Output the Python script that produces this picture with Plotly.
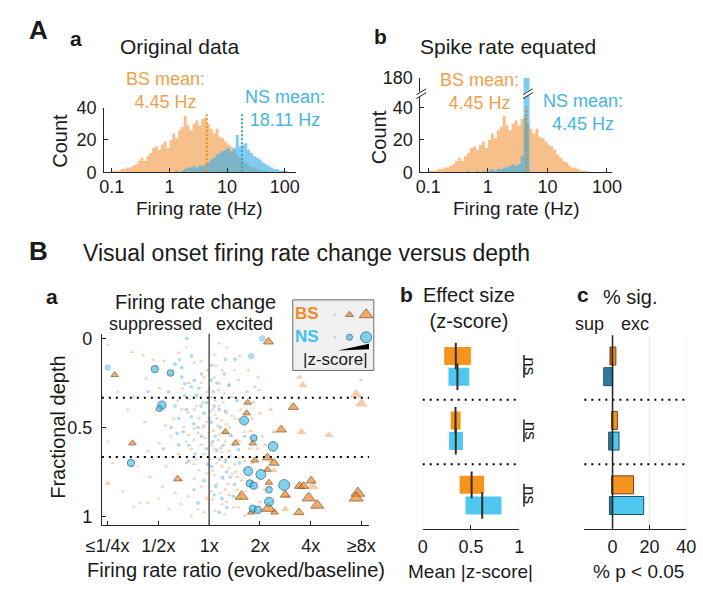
import numpy as np
import plotly.graph_objects as go

W, H = 703, 592
FONT = "Liberation Sans, Arial, sans-serif"

# ---------------- DATA ----------------
# Panel A histograms: log-spaced bins, 20 per decade, first edge at 0.1 Hz
HIST_FIRST_EDGE_HZ = 0.1
HIST_BINS_PER_DECADE = 20
BS_COUNTS = [1, 1, 1, 2, 2, 3, 3, 4, 5, 7,
             9, 7, 10, 12, 15, 16, 14, 17, 19, 15,
             20, 24, 21, 26, 28, 35, 29, 26, 30, 32,
             29, 33, 34, 30, 27, 24, 27, 22, 21, 19,
             17, 16, 14, 11, 9, 7, 6, 4, 3, 3,
             2, 1, 1, 1, 0, 0, 0, 0, 0, 0,
             0, 0, 0, 0]
NS_COUNTS_ORIGINAL = [0, 0, 0, 0, 0, 0, 0, 0, 0, 0,
                      0, 0, 0, 0, 0, 0, 0, 0, 0, 0,
                      0, 0, 1, 0, 1, 2, 3, 3, 4, 3,
                      4, 4, 5, 6, 8, 9, 11, 12, 13, 14,
                      15, 13, 15, 23, 16, 17, 18, 14, 12, 10,
                      9, 8, 6, 5, 4, 3, 2, 2, 1, 1,
                      1, 0, 0, 0]
NS_COUNTS_EQUATED = [0, 0, 0, 0, 0, 0, 0, 0, 0, 0,
                     0, 0, 0, 1, 0, 0, 1, 0, 1, 0,
                     1, 2, 1, 2, 2, 3, 3, 4, 5, 4,
                     5, 10, 180, 180, 0, 0, 0, 0, 0, 0,
                     0, 0, 0, 0, 0, 0, 0, 0, 0, 0,
                     0, 0, 0, 0, 0, 0, 0, 0, 0, 0,
                     0, 0, 0, 0]
BS_MEAN_HZ = 4.45
NS_MEAN_ORIGINAL_HZ = 18.11
NS_MEAN_EQUATED_HZ = 4.45
MEAN_LINE_TOP_A = 36
MEAN_LINE_TOP_B = 40
HIST_X_TICKS_HZ = [0.1, 1, 10, 100]
HIST_X_TICK_LABELS = ["0.1", "1", "10", "100"]
COUNT_TICKS_A = [0, 20, 40]
COUNT_TICKS_B = [0, 20, 40, 180]
# broken axis for panel Ab
BREAK_LO = 48.0
BREAK_HI = 169.5

# Panel Ba: firing-rate ratio (log2) vs fractional depth, |z|
RATIO_TICKS_LOG2 = [-2, -1, 0, 1, 2, 3]
RATIO_TICK_LABELS = ["≤1/4x", "1/2x", "1x", "2x", "4x", "≥8x"]
DEPTH_TICKS = [0, 0.5, 1]
DEPTH_TICK_LABELS = ["0", "0.5", "1"]
DEPTH_BOUNDARIES = [1 / 3, 2 / 3]

BS_FAINT_LOG2 = [-2.00, -1.52, -1.30, -0.60, -0.89, -0.29, -0.16, -1.24, -0.98, -0.10,
                 -0.03, -1.49, -0.54, -0.41, -0.29, -2.03, -1.27, -0.86, -0.41, -0.29,
                 -0.22, -0.10, -0.16, -0.98, -1.21, -2.00, -0.29, -2.00, -1.17, -0.92,
                 -0.54, -0.29, -0.16, -0.41, -0.67, -1.37, -1.21, -1.49, -0.35, -0.10,
                 0.20, 0.10, 0.13, 0.26, 0.77, 0.96, 0.20, 0.58, 0.99, 0.07,
                 0.20, 0.45, 0.58, 0.17, 0.29, 0.55, 0.70, 0.23, 0.39, 0.13,
                 0.51, 0.70, 0.07, 0.45, 0.64, 0.32, 0.07, 0.26, 0.58, 0.70,
                 1.09, 1.50, 1.53, 2.04, 1.28, 1.78, 1.85, 1.82, 2.36, 2.90,
                 3.00, 2.99, 1.21, 1.28, 0.90, 1.21,
                 -0.05, 0.05, 0.12, -0.12, 0.30, 0.35, -0.20, -0.05, 0.08, 0.15,
                 0.40, -0.35, -0.08, 0.05, 0.18, 0.33, 0.48, -0.45, -0.20, 0.02,
                 0.25, 0.55, -0.60, -0.75, -0.50, 0.62, 0.85, 0.80, 0.95, 0.40,
                 0.15, -0.05, -0.70, -0.85, 0.10, 0.40, 0.60, -0.40, -0.70, 1.05,
                 -0.15, 0.00, 0.18, 0.28, 0.45, -0.25, -0.40, 0.02, 0.12, 0.25,
                 0.35, 0.50, -0.12, 0.00, 0.20, 0.32, 0.45, 0.60, -0.30, -0.45,
                 0.10, 0.25, 0.42, 0.58, -0.10, -0.25, 0.15, 0.40, 0.52, 0.70,
                 -0.05, 0.10, 0.28, 0.38, 0.55, 0.72, 0.05, 0.22, 0.35, 0.48,
                 -0.22, 0.12, 0.30, -0.55, -0.80, -1.00, -1.10, -1.40, -1.60, -1.80,
                 -1.05, -0.75, -1.10, -0.45, 0.35, 0.50, 0.75, 0.88, 1.00, 0.95,
                 1.10, 0.85, 1.00, 0.62, -1.70, -1.90, -0.62, -0.52, 0.68, 0.82]
BS_FAINT_DEPTH = [0.036, 0.076, 0.094, 0.080, 0.127, 0.136, 0.127, 0.226, 0.280, 0.217,
                  0.180, 0.326, 0.400, 0.417, 0.400, 0.507, 0.470, 0.490, 0.543, 0.507,
                  0.534, 0.490, 0.598, 0.589, 0.634, 0.580, 0.707, 0.815, 0.780, 0.833,
                  0.797, 0.788, 0.833, 0.888, 0.870, 0.924, 0.924, 0.947, 0.996, 0.978,
                  0.027, 0.090, 0.154, 0.181, 0.181, 0.217, 0.254, 0.235, 0.290, 0.400,
                  0.380, 0.435, 0.453, 0.490, 0.525, 0.571, 0.525, 0.616, 0.634, 0.670,
                  0.707, 0.690, 0.743, 0.761, 0.797, 0.851, 0.906, 0.933, 0.951, 0.996,
                  0.851, 0.960, 0.888, 0.833, 0.743, 0.217, 0.263, 0.525, 0.543, 0.317,
                  0.366, 0.235, 0.400, 0.525, 0.272, 0.690,
                  0.30, 0.33, 0.35, 0.36, 0.31, 0.42, 0.45, 0.47, 0.52, 0.45,
                  0.50, 0.62, 0.56, 0.60, 0.57, 0.68, 0.60, 0.70, 0.74, 0.68,
                  0.72, 0.78, 0.65, 0.55, 0.50, 0.40, 0.45, 0.62, 0.78, 0.88,
                  0.82, 0.90, 0.45, 0.72, 0.22, 0.26, 0.10, 0.25, 0.33, 0.55,
                  0.25, 0.28, 0.29, 0.36, 0.33, 0.38, 0.34, 0.41, 0.43, 0.46,
                  0.48, 0.45, 0.50, 0.53, 0.54, 0.58, 0.55, 0.58, 0.57, 0.58,
                  0.62, 0.64, 0.66, 0.67, 0.65, 0.68, 0.70, 0.73, 0.75, 0.74,
                  0.76, 0.77, 0.79, 0.82, 0.85, 0.86, 0.86, 0.87, 0.92, 0.95,
                  0.96, 0.97, 0.99, 0.93, 0.96, 0.90, 0.68, 0.72, 0.40, 0.30,
                  0.40, 0.20, 0.12, 0.05, 0.05, 0.18, 0.30, 0.36, 0.42, 0.62,
                  0.60, 0.70, 0.92, 0.90, 0.86, 0.70, 0.35, 0.28, 0.47, 0.52]
BS_FAINT_ABSZ = [0.4, 0.4, 0.4, 0.4, 0.4, 0.4, 0.4, 0.4, 0.4, 0.4,
                 0.4, 0.4, 0.4, 0.4, 0.4, 0.4, 0.4, 0.4, 0.4, 0.4,
                 0.4, 0.4, 0.4, 0.4, 0.4, 0.4, 0.4, 1.0, 0.4, 0.4,
                 0.4, 0.4, 0.4, 0.4, 0.4, 0.4, 0.4, 0.4, 0.4, 0.4,
                 0.4, 0.4, 0.4, 0.4, 0.4, 0.4, 0.4, 0.4, 0.4, 0.4,
                 0.4, 0.4, 0.4, 0.4, 0.4, 0.4, 0.4, 0.4, 0.4, 0.4,
                 0.4, 0.4, 0.4, 0.4, 0.4, 0.4, 0.4, 0.4, 0.4, 0.4,
                 0.4, 1.5, 1.5, 2.5, 1.2, 1.0, 1.8, 1.8, 1.8, 2.8,
                 2.8, 0.4, 0.8, 0.8, 0.5, 0.8,
                 0.4, 0.4, 0.4, 0.4, 0.4, 0.4, 0.4, 0.4, 0.4, 0.4,
                 0.4, 0.4, 0.4, 0.4, 0.4, 0.4, 0.4, 0.4, 0.4, 0.4,
                 0.4, 0.4, 0.4, 0.4, 0.4, 0.4, 0.4, 0.4, 0.4, 0.4,
                 0.4, 0.4, 0.4, 0.4, 0.4, 0.4, 0.4, 0.4, 0.4, 0.4,
                 0.3, 0.3, 0.3, 0.3, 0.3, 0.3, 0.3, 0.3, 0.3, 0.3,
                 0.3, 0.3, 0.3, 0.3, 0.3, 0.3, 0.3, 0.3, 0.3, 0.3,
                 0.3, 0.3, 0.3, 0.3, 0.3, 0.3, 0.3, 0.3, 0.3, 0.3,
                 0.3, 0.3, 0.3, 0.3, 0.3, 0.3, 0.3, 0.3, 0.3, 0.3,
                 0.3, 0.3, 0.3, 0.3, 0.3, 0.3, 0.3, 0.3, 0.3, 0.3,
                 0.3, 0.3, 0.3, 0.3, 0.3, 0.3, 0.5, 0.5, 0.5, 0.5,
                 0.5, 0.5, 0.5, 0.5, 0.3, 0.3, 0.3, 0.3, 0.5, 0.5]

NS_FAINT_LOG2 = [-0.44, -2.00, -0.67, -0.54, -0.54, -0.48, -0.35, -0.29, -0.67, -0.16,
                 -0.63, -0.51, -0.60, -0.41, -0.03, -0.22, 0.32, 0.51, 0.04, 0.39,
                 0.32, 0.04, 0.42, 0.07, 0.58, 0.32, 0.26, 0.13, 0.48, 0.20,
                 0.83, 1.05, -0.25, -0.10, 0.10, 0.22, -0.30, -0.15, 0.15, 0.35,
                 -0.10, 0.50, -0.45, -0.80, 0.05, -0.35, 0.60, 0.25,
                 -0.20, -0.05, 0.08, 0.20, -0.35, -0.22, 0.00, 0.12, 0.28, -0.05,
                 -0.40, -0.28, 0.05, 0.20, 0.42, 0.10, -0.30, 0.35, -0.60, -0.75,
                 -0.48, -0.58, -0.15, 0.15, 0.30, 0.55, 0.70, 0.62, -0.90, -1.20]
NS_FAINT_DEPTH = [0.000, 0.163, 0.145, 0.163, 0.217, 0.254, 0.272, 0.235, 0.380, 0.380,
                  0.534, 0.525, 0.598, 0.690, 0.707, 0.924, 0.118, 0.118, 0.235, 0.263,
                  0.408, 0.471, 0.543, 0.580, 0.625, 0.690, 0.780, 0.833, 0.888, 0.978,
                  0.100, 0.000, 0.32, 0.42, 0.38, 0.50, 0.48, 0.55, 0.63, 0.75,
                  0.80, 0.82, 0.40, 0.30, 0.15, 0.10, 0.70, 0.90,
                  0.28, 0.36, 0.30, 0.40, 0.44, 0.50, 0.45, 0.55, 0.60, 0.62,
                  0.60, 0.65, 0.72, 0.68, 0.78, 0.88, 0.85, 0.95, 0.45, 0.50,
                  0.32, 0.12, 0.20, 0.25, 0.20, 0.35, 0.55, 0.88, 0.62, 0.30]
NS_FAINT_ABSZ = [0.5, 1.2, 0.4, 0.4, 0.4, 0.4, 0.4, 0.4, 0.4, 0.4,
                 0.4, 0.4, 0.4, 0.4, 0.4, 0.4, 0.4, 0.4, 0.4, 0.4,
                 0.4, 0.4, 0.4, 0.4, 0.4, 0.4, 0.4, 0.4, 0.4, 0.4,
                 1.3, 1.3, 0.4, 0.4, 0.4, 0.4, 0.4, 0.4, 0.4, 0.4,
                 0.4, 0.4, 0.4, 0.4, 0.4, 0.4, 0.4, 0.4,
                 0.3, 0.3, 0.3, 0.3, 0.3, 0.3, 0.3, 0.3, 0.3, 0.3,
                 0.3, 0.3, 0.3, 0.3, 0.3, 0.3, 0.3, 0.3, 0.3, 0.3,
                 0.3, 0.3, 0.3, 0.3, 0.3, 0.3, 0.3, 0.3, 0.3, 0.3]

BS_SIG_LOG2 = [1.17, -1.86, 0.76, 0.74, 1.66, 1.42, 0.32, 0.52, 0.86, -1.51,
               1.15, 0.90, 1.28, -0.62, 1.15, 1.18, 1.78, 1.86, 2.01, 1.50,
               0.64, 1.96, 2.93, 2.90, 2.13, 1.17, 1.77, 0.83, 1.29]
BS_SIG_DEPTH = [0.018, 0.205, 0.360, 0.420, 0.386, 0.513, 0.525, 0.589, 0.589, 0.589,
                0.670, 0.685, 0.700, 0.790, 0.737, 0.810, 0.830, 0.830, 0.800, 0.879,
                0.888, 0.897, 0.870, 0.897, 0.938, 0.955, 0.978, 0.978, 0.978]
BS_SIG_ABSZ = [2.0, 1.3, 1.3, 1.3, 2.0, 2.0, 1.3, 1.3, 1.3, 1.3,
               2.0, 1.3, 2.0, 1.5, 1.3, 1.3, 2.0, 2.0, 2.0, 2.0,
               2.8, 2.8, 3.0, 3.0, 2.8, 3.0, 2.0, 1.3, 1.3]

NS_SIG_LOG2 = [-1.07, -0.76, -0.93, -0.98, -1.54, 0.69, 0.88, 1.26, 0.77, 1.02,
               0.80, 0.88, 1.18, 1.48, 1.18, 0.86, 0.96]
NS_SIG_DEPTH = [0.172, 0.194, 0.375, 0.395, 0.700, 0.462, 0.560, 0.607, 0.746, 0.765,
                0.815, 0.828, 0.851, 0.824, 0.918, 0.957, 0.964]
NS_SIG_ABSZ = [1.5, 1.3, 1.8, 1.0, 1.5, 2.0, 1.3, 2.2, 2.0, 2.3,
               1.5, 1.5, 1.3, 2.6, 2.0, 1.5, 1.5]

# Panel Bb: mean |z| with confidence interval, 3 depth groups (top->bottom)
DEPTH_GROUPS = ["superficial", "middle", "deep"]
BS_Z_MEAN = [0.343, 0.340, 0.507]
BS_Z_LOW = [0.223, 0.290, 0.383]
BS_Z_HIGH = [0.500, 0.393, 0.637]
NS_Z_MEAN = [0.360, 0.343, 0.617]
NS_Z_LOW = [0.267, 0.273, 0.443]
NS_Z_HIGH = [0.483, 0.417, 0.817]
Z_TICKS = [0, 0.5, 1]
Z_TICK_LABELS = ["0", "0.5", "1"]

# Panel Bc: % significant (suppressed / excited)
BS_PCT_SUP = [1.4, 0.5, 0.5]
BS_PCT_EXC = [1.8, 2.6, 11.4]
NS_PCT_SUP = [4.8, 2.1, 1.7]
NS_PCT_EXC = [0.0, 3.5, 16.9]
PCT_TICKS = [0, 20, 40]

# ---------------- STYLE / LAYOUT HELPERS ----------------
BS_HIST = "rgba(242,150,60,0.6)"
NS_HIST = "rgba(60,175,230,0.65)"
BS_TXT = "#F0A04B"
NS_TXT = "#45B5E0"
BS_COL = "#F7941D"
NS_COL = "#4FC8F0"
BS_DARK = "#B5661F"
NS_DARK = "#2C7C99"
BS_EDGE = "#7A4212"
NS_EDGE = "#1B5468"
AX = "#262626"


def dom_x(x0, x1):
    return [x0 / W, x1 / W]


def dom_y(top, bottom):
    return [1 - bottom / H, 1 - top / H]


def px(x):
    return x / W


def py(y):
    return 1 - y / H


def zsize(vals):
    return [2.5 + 3.2 * v for v in vals]


def brk(v):
    return v if v <= BREAK_LO else BREAK_LO + (v - BREAK_HI)


n_bins = len(BS_COUNTS)
bin_w = 1.0 / HIST_BINS_PER_DECADE
edges = [np.log10(HIST_FIRST_EDGE_HZ) + k * bin_w for k in range(n_bins + 1)]


def step_hist(counts, color, xa, ya):
    return go.Scatter(x=edges, y=list(counts) + [counts[-1]], mode="lines", line=dict(width=0, shape="hv"),
                      fill="tozeroy", fillcolor=color, xaxis=xa, yaxis=ya, hoverinfo="skip")


fig = go.Figure()

# ----- Aa -----
fig.add_trace(step_hist(BS_COUNTS, BS_HIST, "x", "y"))
fig.add_trace(step_hist(NS_COUNTS_ORIGINAL, NS_HIST, "x", "y"))
fig.add_trace(go.Scatter(x=[np.log10(BS_MEAN_HZ)] * 2, y=[0, MEAN_LINE_TOP_A], mode="lines",
                         line=dict(color="#E8902A", width=2, dash="2px,2px"), xaxis="x", yaxis="y"))
fig.add_trace(go.Scatter(x=[np.log10(NS_MEAN_ORIGINAL_HZ)] * 2, y=[0, MEAN_LINE_TOP_A], mode="lines",
                         line=dict(color="#2E9FD8", width=2, dash="2px,2px"), xaxis="x", yaxis="y"))

# ----- Ab -----
fig.add_trace(step_hist([brk(v) for v in BS_COUNTS], BS_HIST, "x2", "y2"))
fig.add_trace(step_hist([brk(v) for v in NS_COUNTS_EQUATED], NS_HIST, "x2", "y2"))
fig.add_trace(go.Scatter(x=[np.log10(NS_MEAN_EQUATED_HZ)] * 2, y=[0, MEAN_LINE_TOP_B], mode="lines",
                         line=dict(color="#2E9FD8", width=2, dash="2px,2px"), xaxis="x2", yaxis="y2"))
fig.add_trace(go.Scatter(x=[np.log10(BS_MEAN_HZ)] * 2, y=[0, MEAN_LINE_TOP_B], mode="lines",
                         line=dict(color="#E8902A", width=2, dash="2px,2px"), xaxis="x2", yaxis="y2"))

# ----- Ba scatter -----
fig.add_trace(go.Scatter(x=BS_FAINT_LOG2, y=BS_FAINT_DEPTH, mode="markers",
                         marker=dict(symbol="triangle-up", size=zsize(BS_FAINT_ABSZ), color="rgb(232,165,110)",
                                     opacity=0.55, line=dict(width=0)), xaxis="x3", yaxis="y3"))
fig.add_trace(go.Scatter(x=NS_FAINT_LOG2, y=NS_FAINT_DEPTH, mode="markers",
                         marker=dict(symbol="circle", size=zsize(NS_FAINT_ABSZ), color="rgb(110,190,228)",
                                     opacity=0.55, line=dict(width=0)), xaxis="x3", yaxis="y3"))
fig.add_trace(go.Scatter(x=BS_SIG_LOG2, y=BS_SIG_DEPTH, mode="markers",
                         marker=dict(symbol="triangle-up", size=zsize(BS_SIG_ABSZ), color="#EE8A2A",
                                     line=dict(width=1, color=BS_EDGE)), xaxis="x3", yaxis="y3"))
fig.add_trace(go.Scatter(x=NS_SIG_LOG2, y=NS_SIG_DEPTH, mode="markers",
                         marker=dict(symbol="circle", size=zsize(NS_SIG_ABSZ), color="#4CC3EE",
                                     line=dict(width=1, color=NS_EDGE)), xaxis="x3", yaxis="y3"))

# ----- Bb effect size -----
grp = [i / 3 for i in range(3)]
bs_pos = [g + 0.107 for g in grp]
ns_pos = [g + 0.214 for g in grp]
fig.add_trace(go.Bar(y=bs_pos, x=[h - l for h, l in zip(BS_Z_HIGH, BS_Z_LOW)], base=BS_Z_LOW, orientation="h",
                     width=0.093, marker=dict(color=BS_COL, line=dict(width=0)), xaxis="x4", yaxis="y4"))
fig.add_trace(go.Bar(y=ns_pos, x=[h - l for h, l in zip(NS_Z_HIGH, NS_Z_LOW)], base=NS_Z_LOW, orientation="h",
                     width=0.093, marker=dict(color=NS_COL, line=dict(width=0)), xaxis="x4", yaxis="y4"))
fig.add_trace(go.Scatter(x=BS_Z_MEAN + NS_Z_MEAN, y=bs_pos + ns_pos, mode="markers",
                         marker=dict(symbol="line-ns", size=19, line=dict(width=2, color="#3a2a20")),
                         xaxis="x4", yaxis="y4"))

# ----- Bc % significant -----
fig.add_trace(go.Bar(y=bs_pos, x=BS_PCT_SUP, base=[-v for v in BS_PCT_SUP], orientation="h", width=0.093,
                     marker=dict(color=BS_DARK, line=dict(width=1, color=BS_EDGE)), xaxis="x5", yaxis="y5"))
fig.add_trace(go.Bar(y=bs_pos, x=BS_PCT_EXC, base=[0, 0, 0], orientation="h", width=0.093,
                     marker=dict(color=BS_COL, line=dict(width=1, color=BS_EDGE)), xaxis="x5", yaxis="y5"))
fig.add_trace(go.Bar(y=ns_pos, x=NS_PCT_SUP, base=[-v for v in NS_PCT_SUP], orientation="h", width=0.093,
                     marker=dict(color=NS_DARK, line=dict(width=1, color=NS_EDGE)), xaxis="x5", yaxis="y5"))
fig.add_trace(go.Bar(y=ns_pos, x=NS_PCT_EXC, base=[0, 0, 0], orientation="h", width=0.093,
                     marker=dict(color=NS_COL, line=dict(width=1, color=NS_EDGE)), xaxis="x5", yaxis="y5"))

# ----- legend box (own hidden axes) -----
fig.add_trace(go.Scatter(x=[0.52, 0.70, 0.905], y=[0.79, 0.79, 0.79], mode="markers",
                         marker=dict(symbol="triangle-up", size=[3, 7, 12],
                                     color=["rgb(232,160,105)", "#EE8A2A", "#EE8A2A"],
                                     line=dict(width=[0, 1, 1], color=BS_EDGE)), xaxis="x6", yaxis="y6"))
fig.add_trace(go.Scatter(x=[0.52, 0.70, 0.905], y=[0.47, 0.47, 0.47], mode="markers",
                         marker=dict(symbol="circle", size=[3, 6, 11],
                                     color=["rgb(150,205,230)", "#4CC3EE", "#4CC3EE"],
                                     line=dict(width=[0, 1, 1], color=NS_EDGE)), xaxis="x6", yaxis="y6"))

# ---------------- AXES ----------------
def axstyle(**kw):
    d = dict(showline=True, linecolor=AX, linewidth=1, ticks="inside", ticklen=4, tickcolor=AX,
             tickfont=dict(size=18, family=FONT, color="#1a1a1a"), showgrid=False, zeroline=False,
             fixedrange=True)
    d.update(kw)
    return d


hist_tickvals = [np.log10(v) for v in HIST_X_TICKS_HZ]
layout = dict(
    width=W, height=H, margin=dict(l=0, r=0, t=0, b=0), paper_bgcolor="white", plot_bgcolor="rgba(0,0,0,0)",
    showlegend=False, barmode="overlay", font=dict(family=FONT, color="#1a1a1a"),
    xaxis=axstyle(domain=dom_x(91.3, 290), range=[-1.134, 2.189], tickvals=hist_tickvals,
                  ticktext=HIST_X_TICK_LABELS, anchor="y", ticklabelstandoff=-2),
    yaxis=axstyle(domain=dom_y(101, 168), range=[0, 40], tickvals=COUNT_TICKS_A, anchor="x",
                  ticklabelstandoff=3),
    xaxis2=axstyle(domain=dom_x(419.3, 618.3), range=[-1.133, 2.09], tickvals=hist_tickvals,
                   ticktext=HIST_X_TICK_LABELS, anchor="y2", ticklabelstandoff=-2),
    yaxis2=axstyle(domain=dom_y(70, 168), range=[0, brk(180)], tickvals=[brk(v) for v in COUNT_TICKS_B],
                   ticktext=[str(v) for v in COUNT_TICKS_B], anchor="x2", ticklabelstandoff=3),
    xaxis3=axstyle(domain=dom_x(89, 366), range=[-2.114, 3.15], tickvals=RATIO_TICKS_LOG2,
                   ticktext=RATIO_TICK_LABELS, anchor="y3", ticklabelstandoff=4),
    yaxis3=axstyle(domain=dom_y(335, 533), range=[1.049, -0.027], tickvals=DEPTH_TICKS,
                   ticktext=DEPTH_TICK_LABELS, anchor="x3", ticklabelstandoff=5),
    xaxis4=axstyle(domain=dom_x(421.7, 521.7), range=[0, 1], tickvals=Z_TICKS, ticktext=Z_TICK_LABELS,
                   anchor="y4", ticklabelstandoff=2),
    yaxis4=dict(domain=dom_y(336.7, 536.7), range=[1, 0], visible=False, anchor="x4", fixedrange=True),
    xaxis5=axstyle(domain=dom_x(589.3, 695), range=[-15.3, 40], tickvals=PCT_TICKS, anchor="y5",
                   ticklabelstandoff=2),
    yaxis5=dict(domain=dom_y(336.7, 536.7), range=[1, 0], visible=False, anchor="x5", fixedrange=True),
    xaxis6=dict(domain=dom_x(287, 371), range=[0, 1], visible=False, anchor="y6", fixedrange=True),
    yaxis6=dict(domain=dom_y(300, 373), range=[0, 1], visible=False, anchor="x6", fixedrange=True),
)

shapes = []
# legend box (below markers)
shapes.append(dict(type="rect", xref="paper", yref="paper", x0=px(287), x1=px(371), y0=py(373), y1=py(300),
                   fillcolor="#F0F0F0", line=dict(color="#6a6a6a", width=1), layer="below"))
shapes.append(dict(type="path", xref="paper", yref="paper",
                   path=f"M {px(334)},{py(352.5)} L {px(366)},{py(351)} L {px(366)},{py(345.5)} Z",
                   fillcolor="black", line=dict(width=0)))
# Ba reference lines
shapes.append(dict(type="line", xref="x3", yref="y3 domain", x0=0, x1=0, y0=0, y1=1,
                   line=dict(color="#555555", width=1.5)))
for b in DEPTH_BOUNDARIES:
    shapes.append(dict(type="line", xref="x3 domain", yref="y3", x0=0, x1=1, y0=b, y1=b,
                       line=dict(color="black", width=2, dash="2px,5px")))
    shapes.append(dict(type="line", xref="x4 domain", yref="y4", x0=0, x1=0.99, y0=b, y1=b,
                       line=dict(color="black", width=2, dash="2px,5px")))
    shapes.append(dict(type="line", xref="x5 domain", yref="y5", x0=0, x1=1, y0=b, y1=b,
                       line=dict(color="black", width=2, dash="2px,5px")))
# light verticals in Bb / Bc
for xv in [0, 1]:
    shapes.append(dict(type="line", xref="x4", yref="y4 domain", x0=xv, x1=xv, y0=0, y1=1,
                       line=dict(color="#e8e8e8", width=1), layer="below"))
for xv in [20, 40]:
    shapes.append(dict(type="line", xref="x5", yref="y5 domain", x0=xv, x1=xv, y0=0, y1=1,
                       line=dict(color="#e8e8e8", width=1), layer="below"))
shapes.append(dict(type="line", xref="x5", yref="y5 domain", x0=0, x1=0, y0=0, y1=1,
                   line=dict(color="#222222", width=1.5)))
# ns brackets
for b, n in zip(bs_pos, ns_pos):
    shapes.append(dict(type="line", xref="paper", yref="y4", x0=px(526.7), x1=px(526.7), y0=b - 0.005,
                       y1=n + 0.005, line=dict(color="#222222", width=1.5)))
# axis break marks in Ab
yb = 168 - brk(BREAK_LO) * (98 / brk(180))
for (cx, half) in [(420.3, 5), (530.8, 5)]:
    shapes.append(dict(type="line", xref="paper", yref="paper", x0=px(cx - half), x1=px(cx + half),
                       y0=py(yb + 1.5), y1=py(yb - 4.5), line=dict(color="white", width=4)))
    for off in [-1.5, 2.5]:
        shapes.append(dict(type="line", xref="paper", yref="paper", x0=px(cx - half), x1=px(cx + half),
                           y0=py(yb + 1.5 + off), y1=py(yb - 4.5 + off), line=dict(color="#222222", width=1)))
layout["shapes"] = shapes


def txt(s, x, y, size, color="#1a1a1a", angle=0, xanchor="center"):
    return dict(text=s, x=px(x), y=py(y), xref="paper", yref="paper", showarrow=False,
                font=dict(size=size, color=color, family=FONT), textangle=angle, xanchor=xanchor,
                yanchor="middle")


ann = [
    txt("<b>A</b>", 23, 21, 26),
    txt("<b>a</b>", 62, 29, 21),
    txt("Original data", 170, 38, 21),
    txt("BS mean:<br>4.45 Hz", 155, 83, 18, BS_TXT),
    txt("NS mean:<br>18.11 Hz", 279, 101.5, 18, NS_TXT),
    txt("Count", 46, 135, 20, angle=-90),
    txt("Firing rate (Hz)", 190, 205, 19),
    txt("<b>b</b>", 378, 27, 21),
    txt("Spike rate equated", 510, 38, 21),
    txt("BS mean:<br>4.45 Hz", 481, 84, 18, BS_TXT),
    txt("NS mean:<br>4.45 Hz", 588, 106, 18, NS_TXT),
    txt("Count", 376, 132, 20, angle=-90),
    txt("Firing rate (Hz)", 519, 205, 19),
    txt("<b>B</b>", 23, 249, 26),
    txt("Visual onset firing rate change versus depth", 67, 252, 23, xanchor="left"),
    txt("<b>a</b>", 37, 297, 21),
    txt("Firing rate change", 186, 302, 20),
    txt("suppressed", 145, 325, 18),
    txt("excited", 237, 325, 18),
    txt("Fractional depth", 44, 432, 20, angle=-90),
    txt("Firing rate ratio (evoked/baseline)", 228, 580, 20),
    txt("<b>b</b>", 405, 294, 21),
    txt("Effect size<br>(z-score)", 470, 308, 20),
    txt("Mean |z-score|", 471, 581, 19),
    txt("<b>c</b>", 588, 294, 21),
    txt("% sig.", 637, 297, 20),
    txt("sup", 595, 325, 18),
    txt("exc", 642, 325, 18),
    txt("% p < 0.05", 645, 581, 19),
    txt("<b>BS</b>", 302, 314, 17, "#F08A2A"),
    txt("<b>NS</b>", 302, 338, 17, "#3EC0F0"),
    txt("|z-score|", 331, 362, 17),
]
for b, n in zip(bs_pos, ns_pos):
    ann.append(dict(text="ns", x=px(533), y=(b + n) / 2, xref="paper", yref="y4", showarrow=False,
                    font=dict(size=17, color="#1a1a1a", family=FONT), textangle=90, xanchor="center",
                    yanchor="middle"))
layout["annotations"] = ann

fig.update_layout(**layout)
fig.write_html("out.html")
